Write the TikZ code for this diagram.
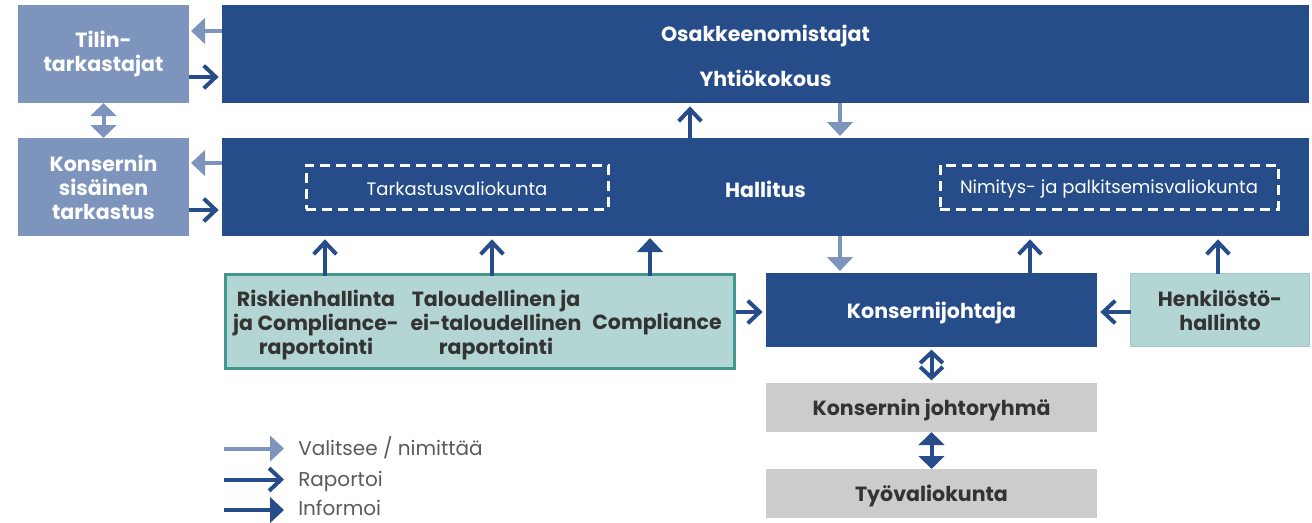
\documentclass[tikz,border=0pt]{standalone}
\usepackage{fontspec}
\setmainfont{Poppins}
\usetikzlibrary{arrows.meta,calc}
\definecolor{dblue}{HTML}{264D8A}
\definecolor{lblue}{HTML}{7D95BC}
\definecolor{gfill}{HTML}{B3D6D4}
\definecolor{gborder}{HTML}{40998F}
\definecolor{gray1}{HTML}{CCCCCC}
\definecolor{txt}{HTML}{333333}
\definecolor{legtxt}{HTML}{5A5A5A}
\def\px{0.75pt}
\tikzset{
  box/.style={inner sep=0pt, outer sep=0pt, align=center},
  bigtxt/.style={font=\fontsize{15.4}{18}\selectfont\bfseries},
  smalltxt/.style={font=\fontsize{13.5}{16}\selectfont},
  legendtxt/.style={font=\fontsize{15}{18}\selectfont, text=legtxt, inner sep=0pt, anchor=base west},
  lightarr/.style={draw=lblue, line width=3pt, -{Triangle[width=19pt,length=10.5pt]}, shorten >=1.5pt},
  openarr/.style={draw=dblue, line width=3pt, -{Straight Barb[width=17pt,length=9pt]}, shorten >=2.5pt},
  fillarr/.style={draw=dblue, line width=3pt, -{Triangle[width=19pt,length=10.5pt]}, shorten >=1.5pt},
  lightdbl/.style={draw=lblue, line width=3pt, {Triangle[width=19pt,length=9.75pt]}-{Triangle[width=19pt,length=9.75pt]}},
  opendbl/.style={draw=dblue, line width=3pt, {Straight Barb[width=17pt,length=8pt]}-{Straight Barb[width=17pt,length=8pt]}, shorten >=2pt, shorten <=2pt},
  filldbl/.style={draw=dblue, line width=3pt, {Triangle[width=19pt,length=9.75pt]}-{Triangle[width=19pt,length=9.75pt]}},
  dashbox/.style={draw=white, line width=2.25pt, dash pattern=on 7.5pt off 4.5pt, inner sep=0pt, minimum height=44*\px, text=white, smalltxt}
}
\begin{document}
\begin{tikzpicture}[x=0.75pt,y=-0.75pt]
\useasboundingbox (0,0) rectangle (1312,522);
% boxes
\node[box, fill=lblue, minimum width=171*\px, minimum height=98*\px, text=white, bigtxt] (tilin) at (103.5,54) {Tilin-\\tarkastajat};
\node[box, fill=lblue, minimum width=171*\px, minimum height=98*\px, text=white, bigtxt] (sis) at (103.5,187) {Konsernin\\sisäinen\\tarkastus};
\node[box, fill=dblue, minimum width=1087*\px, minimum height=98*\px] (osak) at (765.5,54) {};
\node[text=white, bigtxt, inner sep=0pt] (osakt) at (765.5,36) {Osakkeenomistajat};
\node[text=white, bigtxt, inner sep=0pt] (yhtio) at (765.5,78) {Yhtiökokous};
\node[box, fill=dblue, minimum width=1087*\px, minimum height=98*\px, text=white, bigtxt] (hall) at (765.5,187) {};
\node[text=white, bigtxt, inner sep=0pt] (hallt) at (765.5,189) {Hallitus};
\node[dashbox, minimum width=302*\px] (tark) at (457,187) {};
\node[text=white, smalltxt, inner sep=0pt] (tarkt) at (457,189) {Tarkastusvaliokunta};
\node[dashbox, minimum width=338*\px] (nimi) at (1109,187) {};
\node[text=white, smalltxt, inner sep=0pt] (nimit) at (1109,189) {Nimitys- ja palkitsemisvaliokunta};
\node[box, fill=gfill, draw=gborder, line width=2.25pt, minimum width=509*\px, minimum height=94*\px] (green) at (480,321.5) {};
\node[text=txt, bigtxt, align=center, inner sep=0pt] (g1t) at (316,325) {Riskienhallinta\\ja Compliance-\\raportointi};
\node[text=txt, bigtxt, align=center, inner sep=0pt] (g2t) at (496,325) {Taloudellinen ja\\ei-taloudellinen\\raportointi};
\node[text=txt, bigtxt, align=center, inner sep=0pt] (g3t) at (657,324) {Compliance};
\node[box, fill=dblue, minimum width=331*\px, minimum height=74*\px] (kj) at (931.5,310) {};
\node[text=white, bigtxt, inner sep=0pt] (kjt) at (931.5,313) {Konsernijohtaja};
\node[box, fill=gfill, draw=gfill!80!gborder, line width=0.75pt, minimum width=179*\px, minimum height=73*\px, text=txt, bigtxt] (henk) at (1220,310) {Henkilöstö-\\hallinto};
\node[box, fill=gray1, minimum width=331*\px, minimum height=49*\px] (jr) at (931.5,407.5) {};
\node[text=txt, bigtxt, inner sep=0pt] (jrt) at (931.5,410) {Konsernin johtoryhmä};
\node[box, fill=gray1, minimum width=331*\px, minimum height=49*\px] (tv) at (931.5,493.5) {};
\node[text=txt, bigtxt, inner sep=0pt] (tvt) at (931.5,496) {Työvaliokunta};
% connectors left
\draw[lightarr] ($(osak.west)+(0,-23)$) -- ($(tilin.east)+(0,-23)$);
\draw[openarr] ($(tilin.east)+(0,23)$) -- ($(osak.west)+(0,23)$);
\draw[lightarr] ($(hall.west)+(0,-24)$) -- ($(sis.east)+(0,-24)$);
\draw[openarr] ($(sis.east)+(0,23)$) -- ($(hall.west)+(0,23)$);
\draw[lightdbl] (tilin.south) -- (sis.north);
% osak / hall
\coordinate (hu) at ($(hall.north)+(-75.5,0)$);
\draw[openarr] (hu) -- (hu |- osak.south);
\coordinate (od) at ($(osak.south)+(74.5,0)$);
\draw[lightarr] (od) -- (od |- hall.north);
% green to hall
\coordinate (ga) at ($(green.north)+(-155,0)$);
\coordinate (gb) at ($(green.north)+(12,0)$);
\coordinate (gc) at ($(green.north)+(170,0)$);
\draw[openarr] ([yshift=-1.1pt]ga) -- (ga |- hall.south);
\draw[openarr] ([yshift=-1.1pt]gb) -- (gb |- hall.south);
\draw[fillarr] ([yshift=-1.1pt]gc) -- (gc |- hall.south);
% hall / kj
\coordinate (kd) at ($(kj.north)+(-91.5,0)$);
\draw[lightarr] (kd |- hall.south) -- (kd);
\coordinate (ku) at ($(kj.north)+(98.5,0)$);
\draw[openarr] (ku) -- (ku |- hall.south);
\coordinate (hu2) at ($(henk.north)+(-2,0)$);
\draw[openarr] (hu2) -- (hu2 |- hall.south);
\draw[openarr] ($(henk.west)+(0,2)$) -- ($(kj.east)+(0,2)$);
\draw[openarr] ([xshift=1.1pt]green.east |- 0,312) -- ($(kj.west)+(0,2)$);
% vertical doubles
\draw[opendbl] (kj.south) -- (jr.north);
\draw[filldbl] (jr.south) -- (tv.north);
% legend
\node[legendtxt] (l1) at (298,455) {Valitsee / nimittää};
\node[legendtxt] (l2) at (298,486) {Raportoi};
\node[legendtxt] (l3) at (298,515.5) {Informoi};
\coordinate (l1s) at (224,448.5);
\coordinate (l2s) at (224,479.5);
\coordinate (l3s) at (224,510);
\draw[lightarr, shorten >=0pt] (l1s) -- ++(60,0);
\draw[openarr, shorten >=0pt] (l2s) -- ++(60,0);
\draw[fillarr, shorten >=0pt] (l3s) -- ++(60,0);
\end{tikzpicture}
\end{document}
